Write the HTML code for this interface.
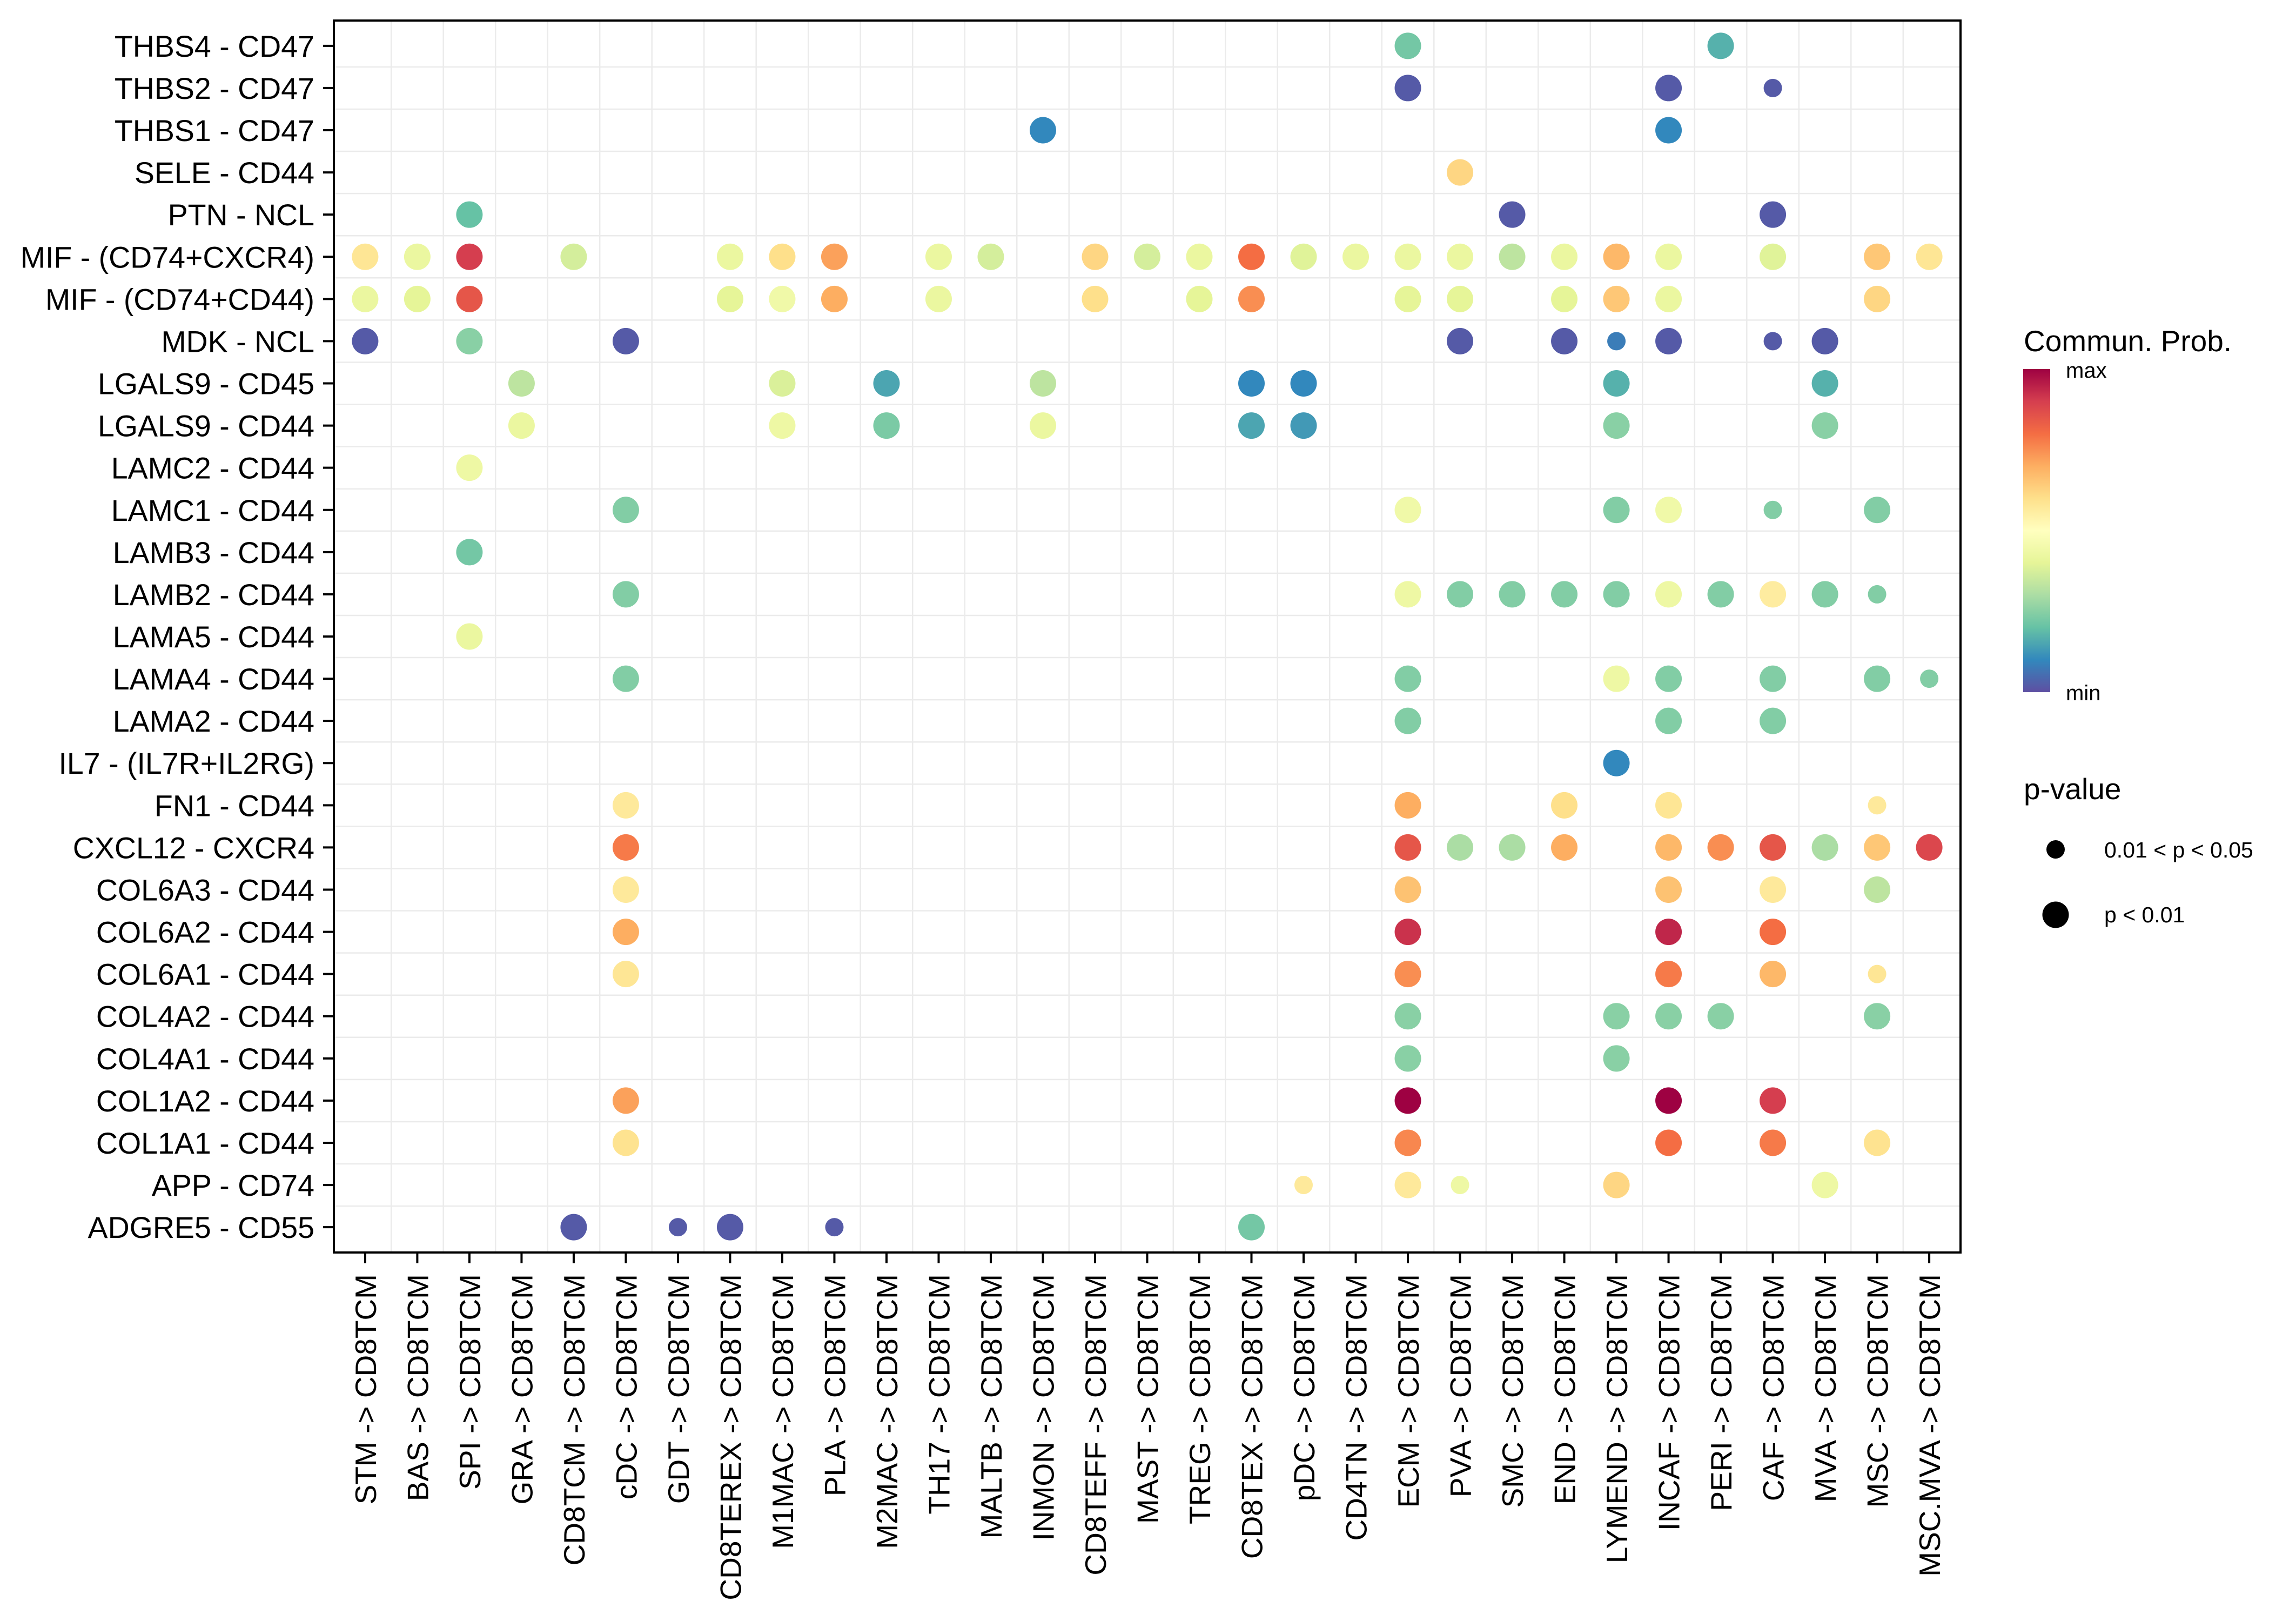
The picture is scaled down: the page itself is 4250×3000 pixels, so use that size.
<!DOCTYPE html>
<html><head><meta charset="utf-8"><style>
html,body{margin:0;padding:0;background:#fff;}
svg{display:block;font-family:"Liberation Sans",sans-serif;}
</style></head><body>
<svg id="chart" width="4250" height="3000" viewBox="0 0 4250 3000" xmlns="http://www.w3.org/2000/svg">
<defs>
<linearGradient id="spec" x1="0" y1="1" x2="0" y2="0">
<stop offset="0" stop-color="#5E4FA2"/><stop offset="0.1" stop-color="#3288BD"/><stop offset="0.2" stop-color="#66C2A5"/><stop offset="0.3" stop-color="#ABDDA4"/><stop offset="0.4" stop-color="#E6F598"/><stop offset="0.5" stop-color="#FFFFBF"/><stop offset="0.6" stop-color="#FEE08B"/><stop offset="0.7" stop-color="#FDAE61"/><stop offset="0.8" stop-color="#F46D43"/><stop offset="0.9" stop-color="#D53E4F"/><stop offset="1" stop-color="#9E0142"/>
</linearGradient>
</defs>
<g id="grid"></g>
<g id="dots"></g>
<rect x="618" y="38" width="3011" height="2280" fill="none" stroke="#000" stroke-width="4"/>
<g id="yaxis"></g>
<g id="xaxis"></g>
<g>
<text x="3746" y="650" font-size="55">Commun. Prob.</text>
<rect x="3745" y="683" width="50" height="598" fill="url(#spec)"/>
<text x="3824" y="699" font-size="40">max</text>
<text x="3824" y="1296" font-size="40">min</text>
</g>
<g>
<text x="3746" y="1479" font-size="55">p-value</text>
<circle cx="3805" cy="1572" r="17" fill="#000"/>
<text x="3895" y="1587" font-size="41">0.01 &lt; p &lt; 0.05</text>
<circle cx="3805" cy="1693" r="24.5" fill="#000"/>
<text x="3895" y="1707" font-size="41">p &lt; 0.01</text>
</g>
</svg>
<script>
const rowLabels = ["THBS4 - CD47","THBS2 - CD47","THBS1 - CD47","SELE - CD44","PTN - NCL","MIF - (CD74+CXCR4)","MIF - (CD74+CD44)","MDK - NCL","LGALS9 - CD45","LGALS9 - CD44","LAMC2 - CD44","LAMC1 - CD44","LAMB3 - CD44","LAMB2 - CD44","LAMA5 - CD44","LAMA4 - CD44","LAMA2 - CD44","IL7 - (IL7R+IL2RG)","FN1 - CD44","CXCL12 - CXCR4","COL6A3 - CD44","COL6A2 - CD44","COL6A1 - CD44","COL4A2 - CD44","COL4A1 - CD44","COL1A2 - CD44","COL1A1 - CD44","APP - CD74","ADGRE5 - CD55"];
const colLabels = ["STM -> CD8TCM","BAS -> CD8TCM","SPI -> CD8TCM","GRA -> CD8TCM","CD8TCM -> CD8TCM","cDC -> CD8TCM","GDT -> CD8TCM","CD8TEREX -> CD8TCM","M1MAC -> CD8TCM","PLA -> CD8TCM","M2MAC -> CD8TCM","TH17 -> CD8TCM","MALTB -> CD8TCM","INMON -> CD8TCM","CD8TEFF -> CD8TCM","MAST -> CD8TCM","TREG -> CD8TCM","CD8TEX -> CD8TCM","pDC -> CD8TCM","CD4TN -> CD8TCM","ECM -> CD8TCM","PVA -> CD8TCM","SMC -> CD8TCM","END -> CD8TCM","LYMEND -> CD8TCM","INCAF -> CD8TCM","PERI -> CD8TCM","CAF -> CD8TCM","MVA -> CD8TCM","MSC -> CD8TCM","MSC.MVA -> CD8TCM"];
// dots: row index, column index, probability (0=min,1=max), p-value class (1 = 0.01<p<0.05, 0 = p<0.01)
const dotRow = [0,0, 1,1,1, 2,2, 3, 4,4,4,
 5,5,5,5,5,5,5,5,5,5,5,5,5,5,5,5,5,5,5,5,5,5,5,5,
 6,6,6,6,6,6,6,6,6,6,6,6,6,6,6,6,
 7,7,7,7,7,7,7,7,7,
 8,8,8,8,8,8,8,8,
 9,9,9,9,9,9,9,9,
 10, 11,11,11,11,11,11, 12,
 13,13,13,13,13,13,13,13,13,13,13,
 14, 15,15,15,15,15,15,15, 16,16,16, 17,
 18,18,18,18,18,
 19,19,19,19,19,19,19,19,19,19,19,
 20,20,20,20,20, 21,21,21,21, 22,22,22,22,22,
 23,23,23,23,23, 24,24, 25,25,25,25, 26,26,26,26,26,
 27,27,27,27,27, 28,28,28,28,28];
const dotCol = [20,26, 20,25,27, 13,25, 21, 2,22,27,
 0,1,2,4,7,8,9,11,12,14,15,16,17,18,19,20,21,22,23,24,25,27,29,30,
 0,1,2,7,8,9,11,14,16,17,20,21,23,24,25,29,
 0,2,5,21,23,24,25,27,28,
 3,8,10,13,17,18,24,28,
 3,8,10,13,17,18,24,28,
 2, 5,20,24,25,27,29, 2,
 5,20,21,22,23,24,25,26,27,28,29,
 2, 5,20,24,25,27,29,30, 20,25,27, 24,
 5,20,23,25,29,
 5,20,21,22,23,25,26,27,28,29,30,
 5,20,25,27,29, 5,20,25,27, 5,20,25,27,29,
 20,24,25,26,29, 20,24, 5,20,25,27, 5,20,25,27,29,
 18,20,21,24,28, 4,6,7,9,17];
const dotProb = [0.22,0.17, 0.02,0.02,0.02, 0.1,0.1, 0.62, 0.2,0.02,0.02,
 0.58,0.42,0.9,0.37,0.42,0.6,0.72,0.42,0.37,0.62,0.37,0.42,0.8,0.39,0.42,0.42,0.42,0.33,0.42,0.68,0.42,0.39,0.65,0.58,
 0.42,0.4,0.85,0.4,0.44,0.7,0.42,0.6,0.4,0.75,0.4,0.4,0.4,0.65,0.42,0.62,
 0.02,0.25,0.02,0.02,0.02,0.08,0.02,0.02,0.02,
 0.33,0.38,0.15,0.33,0.1,0.1,0.17,0.17,
 0.42,0.43,0.23,0.42,0.15,0.13,0.25,0.25,
 0.43, 0.24,0.44,0.24,0.44,0.24,0.24, 0.22,
 0.24,0.43,0.24,0.24,0.24,0.24,0.43,0.24,0.56,0.24,0.24,
 0.42, 0.24,0.24,0.43,0.24,0.24,0.24,0.24, 0.24,0.24,0.24, 0.1,
 0.57,0.7,0.6,0.58,0.57,
 0.78,0.85,0.3,0.3,0.7,0.68,0.75,0.85,0.3,0.65,0.88,
 0.57,0.66,0.66,0.57,0.33, 0.7,0.92,0.94,0.8, 0.58,0.75,0.78,0.68,0.58,
 0.25,0.25,0.25,0.25,0.25, 0.25,0.25, 0.72,1.0,1.0,0.9, 0.59,0.76,0.8,0.78,0.59,
 0.57,0.57,0.43,0.62,0.43, 0.02,0.02,0.02,0.02,0.22];
const dotPClass = [0,0, 0,0,1, 0,0, 0, 0,0,0,
 0,0,0,0,0,0,0,0,0,0,0,0,0,0,0,0,0,0,0,0,0,0,0,0,
 0,0,0,0,0,0,0,0,0,0,0,0,0,0,0,0,
 0,0,0,0,0,1,0,1,0,
 0,0,0,0,0,0,0,0,
 0,0,0,0,0,0,0,0,
 0, 0,0,0,0,1,0, 0,
 0,0,0,0,0,0,0,0,0,0,1,
 0, 0,0,0,0,0,0,1, 0,0,0, 0,
 0,0,0,0,1,
 0,0,0,0,0,0,0,0,0,0,0,
 0,0,0,0,0, 0,0,0,0, 0,0,0,0,1,
 0,0,0,0,0, 0,0, 0,0,0,0, 0,0,0,0,0,
 1,0,1,0,0, 0,1,0,1,0];

const NS = "http://www.w3.org/2000/svg";
const PX0 = 618, PX1 = 3629, PY0 = 38, PY1 = 2318;
const colStep = (PX1 - PX0) / (colLabels.length - 1 + 1.2);
const rowStep = (PY1 - PY0) / (rowLabels.length - 1 + 1.2);
function xScale(i){ return PX0 + (0.6 + i) * colStep; }
function yScale(i){ return PY0 + (0.6 + i) * rowStep; }
const pal = ["#5E4FA2","#3288BD","#66C2A5","#ABDDA4","#E6F598","#FFFFBF","#FEE08B","#FDAE61","#F46D43","#D53E4F","#9E0142"];
function colorOf(v){
  v = Math.max(0, Math.min(1, v)) * 10;
  const i = Math.min(9, Math.floor(v)), t = v - i;
  const a = pal[i], b = pal[i+1];
  const c = [1,3,5].map(k => Math.round(parseInt(a.substr(k,2),16)*(1-t) + parseInt(b.substr(k,2),16)*t));
  return "rgb(" + c.join(",") + ")";
}
function mk(tag, attrs, parent){
  const e = document.createElementNS(NS, tag);
  for (const k in attrs) e.setAttribute(k, attrs[k]);
  parent.appendChild(e);
  return e;
}
const grid = document.getElementById("grid");
for (let i = 0; i < colLabels.length - 1; i++) {
  const x = (xScale(i) + xScale(i+1)) / 2;
  const l = mk("line", {x1:x, x2:x, y1:PY0, y2:PY1, stroke:"#EBEBEB", "stroke-width":2.5}, grid);
  
  
}
for (let i = 0; i < rowLabels.length - 1; i++) {
  const y = (yScale(i) + yScale(i+1)) / 2;
  const l = mk("line", {x1:PX0, x2:PX1, y1:y, y2:y, stroke:"#EBEBEB", "stroke-width":2.5}, grid);
  
  
}
const dots = document.getElementById("dots");
for (let k = 0; k < dotRow.length; k++) {
  const c = mk("circle", {cx:xScale(dotCol[k]), cy:yScale(dotRow[k]), r: dotPClass[k] ? 17 : 24.5, fill: colorOf(dotProb[k])}, dots);
  
  
}
const ya = document.getElementById("yaxis");
rowLabels.forEach((lab, i) => {
  const y = yScale(i);
  const t = mk("line", {x1:598, x2:618, y1:y, y2:y, stroke:"#000", "stroke-width":4}, ya);
  
  
  const tx = mk("text", {x:582, y:y + 20, "text-anchor":"end", "font-size":55.5}, ya);
  tx.textContent = lab;
  
  
});
const xa = document.getElementById("xaxis");
colLabels.forEach((lab, i) => {
  const x = xScale(i);
  const t = mk("line", {x1:x, x2:x, y1:2318, y2:2338, stroke:"#000", "stroke-width":4}, xa);
  
  
  const tx = mk("text", {x:0, y:0, "text-anchor":"end", "font-size":55, transform:"translate(" + (x + 20) + ",2358) rotate(-90)"}, xa);
  tx.textContent = lab;
  
  
});
</script>
</body></html>
